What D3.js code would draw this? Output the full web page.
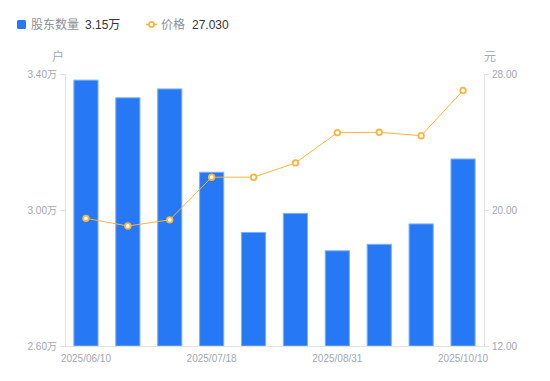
<!DOCTYPE html>
<html lang="zh">
<head>
<meta charset="UTF-8">
<title>股东数量与价格</title>
<script src="https://d3js.org/d3.v7.min.js"></script>
<style>
    body { margin: 0; background: #fff; }
    svg text { font-family: "Liberation Sans", Arial, "Noto Sans CJK SC", sans-serif; }
    .tick-label { font-size: 10px; fill: #a3a7b0; }
    .unit { font-size: 12px; fill: #a3a7b0; font-family: "Noto Sans CJK SC", sans-serif; }
    .axis-line { stroke: #e3e3e3; stroke-width: 1; }
</style>
</head>
<body>
<svg id="chart" width="550" height="381"></svg>
<script>
    // data
    const dates = ["2025/06/10", "2025/06/20", "2025/06/30", "2025/07/18", "2025/07/31",
                   "2025/08/20", "2025/08/31", "2025/09/10", "2025/09/19", "2025/10/10"];
    const holders = [3.382, 3.330, 3.356, 3.111, 2.934, 2.990, 2.880, 2.899, 2.959, 3.150]; // 万户
    const prices = [19.51, 19.06, 19.42, 21.93, 21.93, 22.77, 24.55, 24.57, 24.37, 27.03];
    const leftTicks = [2.6, 3.0, 3.4];
    const rightTicks = [12, 20, 28];

    const width = 550, height = 381;
    const margin = { top: 74, right: 66, bottom: 35, left: 65 };
    const svg = d3.select("#chart");

    const x = d3.scaleBand()
        .domain(dates)
        .range([margin.left, width - margin.right])
        .paddingInner(0.4)
        .paddingOuter(0.2);

    const yL = d3.scaleLinear().domain([2.6, 3.4]).range([height - margin.bottom, margin.top]);
    const yR = d3.scaleLinear().domain([12, 28]).range([height - margin.bottom, margin.top]);

    const x0 = margin.left, x1 = width - margin.right;
    const yBottom = height - margin.bottom;

    // axis lines
    svg.append("line").attr("class", "axis-line")
        .attr("x1", x0 + 0.5).attr("x2", x0 + 0.5).attr("y1", margin.top).attr("y2", yBottom);
    svg.append("line").attr("class", "axis-line")
        .attr("x1", x1 + 0.5).attr("x2", x1 + 0.5).attr("y1", margin.top).attr("y2", yBottom);

    // left ticks
    const lt = svg.append("g").selectAll("g").data(leftTicks).enter().append("g")
        .attr("transform", d => `translate(0,${Math.round(yL(d)) + 0.5})`);
    lt.append("line").attr("class", "axis-line").attr("x1", x0 - 5).attr("x2", x0);
    lt.append("text").attr("class", "tick-label")
        .attr("x", x0 - 8).attr("dy", "0.35em").attr("text-anchor", "end")
        .text(d => d.toFixed(2) + "万");

    // right ticks
    const rt = svg.append("g").selectAll("g").data(rightTicks).enter().append("g")
        .attr("transform", d => `translate(0,${Math.round(yR(d)) + 0.5})`);
    rt.append("line").attr("class", "axis-line").attr("x1", x1).attr("x2", x1 + 5);
    rt.append("text").attr("class", "tick-label")
        .attr("x", x1 + 8).attr("dy", "0.35em").attr("text-anchor", "start")
        .text(d => d.toFixed(2));

    // unit labels
    svg.append("text").attr("class", "unit").attr("x", 58).attr("y", 61)
        .attr("text-anchor", "middle").text("户");
    svg.append("text").attr("class", "unit").attr("x", 490).attr("y", 61)
        .attr("text-anchor", "middle").text("元");

    // bars
    svg.append("g").selectAll("rect").data(holders).enter().append("rect")
        .attr("x", (d, i) => x(dates[i]) + 0.5)
        .attr("y", d => yL(d))
        .attr("width", x.bandwidth() - 1)
        .attr("height", d => yBottom - yL(d))
        .attr("fill", "#2678f5")
        .attr("stroke", "#7eaef8")
        .attr("stroke-width", 1);

    // x baseline
    svg.append("line").attr("class", "axis-line")
        .attr("x1", x0).attr("x2", x1 + 1).attr("y1", yBottom + 0.5).attr("y2", yBottom + 0.5);

    // x labels (every third)
    svg.append("g").selectAll("text").data(dates.filter((d, i) => i % 3 === 0)).enter().append("text")
        .attr("class", "tick-label")
        .attr("x", d => x(d) + x.bandwidth() / 2)
        .attr("y", 362)
        .attr("text-anchor", "middle")
        .text(d => d);

    // price line
    const cx = i => x(dates[i]) + x.bandwidth() / 2;
    const line = d3.line().x((d, i) => cx(i)).y(d => yR(d));
    svg.append("path").datum(prices)
        .attr("d", line)
        .attr("fill", "none")
        .attr("stroke", "#fbb53c")
        .attr("stroke-width", 1);
    svg.append("g").selectAll("circle").data(prices).enter().append("circle")
        .attr("cx", (d, i) => cx(i))
        .attr("cy", d => yR(d))
        .attr("r", 2.8)
        .attr("fill", "#fff")
        .attr("stroke", "#fbb53c")
        .attr("stroke-width", 1.8);

    // legend
    const lg = svg.append("g");
    lg.append("rect").attr("x", 17).attr("y", 20).attr("width", 9).attr("height", 9)
        .attr("rx", 1.5).attr("fill", "#2678f5");
    lg.append("text").attr("x", 31).attr("y", 29).attr("font-size", 12).attr("fill", "#8a8f99")
        .style("font-family", "'Noto Sans CJK SC', sans-serif").text("股东数量");
    lg.append("text").attr("x", 85).attr("y", 29).attr("font-size", 12).attr("fill", "#333")
        .text(holders[holders.length - 1].toFixed(2) + "万");

    lg.append("line").attr("x1", 146).attr("x2", 157).attr("y1", 24.5).attr("y2", 24.5)
        .attr("stroke", "#fbb53c").attr("stroke-width", 1.5);
    lg.append("circle").attr("cx", 151.5).attr("cy", 24.5).attr("r", 2.6)
        .attr("fill", "#fff").attr("stroke", "#fbb53c").attr("stroke-width", 1.8);
    lg.append("text").attr("x", 161).attr("y", 29).attr("font-size", 12).attr("fill", "#8a8f99")
        .style("font-family", "'Noto Sans CJK SC', sans-serif").text("价格");
    lg.append("text").attr("x", 192).attr("y", 29).attr("font-size", 12).attr("fill", "#333")
        .text(prices[prices.length - 1].toFixed(3));
</script>
</body>
</html>
